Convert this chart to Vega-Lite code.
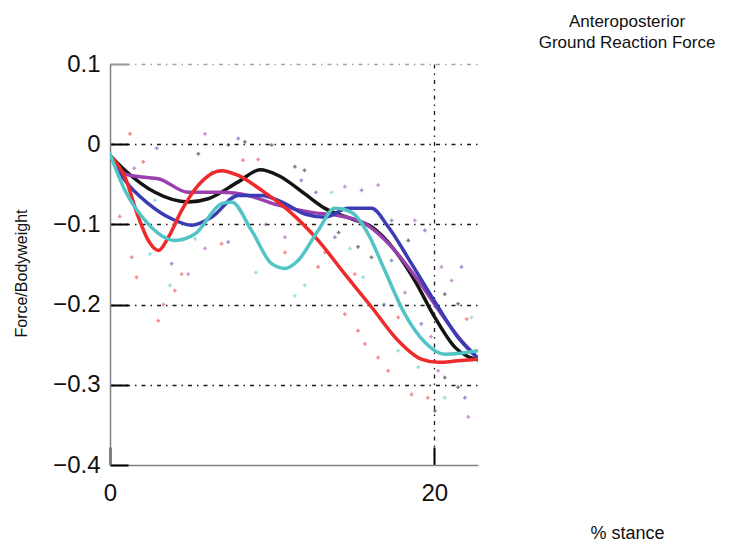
{
  "$schema": "https://vega.github.io/schema/vega-lite/v6.json",
  "width": 368,
  "height": 401,
  "autosize": "none",
  "padding": {"left": 110, "top": 64, "right": 266, "bottom": 77},
  "background": "white",
  "config": {
    "view": {"stroke": null},
    "font": "Liberation Sans"
  },
  "title": {
    "text": ["Anteroposterior", "Ground Reaction Force"],
    "anchor": "middle",
    "frame": "group",
    "dx": 333,
    "offset": 0,
    "fontSize": 17,
    "lineHeight": 21,
    "fontWeight": "normal",
    "font": "Liberation Sans",
    "color": "#111111"
  },
  "datasets": {
    "curves": [
      {"s": "black", "x": 0, "y": -0.014}, {"s": "black", "x": 0.92, "y": -0.0325}, {"s": "black", "x": 2.77, "y": -0.06}, {"s": "black", "x": 4.83, "y": -0.072}, {"s": "black", "x": 6.06, "y": -0.068}, {"s": "black", "x": 7.91, "y": -0.047}, {"s": "black", "x": 9.25, "y": -0.032}, {"s": "black", "x": 10.38, "y": -0.039}, {"s": "black", "x": 12.02, "y": -0.062}, {"s": "black", "x": 13.26, "y": -0.08}, {"s": "black", "x": 14.9, "y": -0.093}, {"s": "black", "x": 16.13, "y": -0.103}, {"s": "black", "x": 17.57, "y": -0.1325}, {"s": "black", "x": 18.8, "y": -0.17}, {"s": "black", "x": 20.04, "y": -0.216}, {"s": "black", "x": 21.27, "y": -0.253}, {"s": "black", "x": 22.7, "y": -0.269},
      {"s": "purple", "x": 0, "y": -0.014}, {"s": "purple", "x": 0.92, "y": -0.037}, {"s": "purple", "x": 1.95, "y": -0.041}, {"s": "purple", "x": 2.98, "y": -0.043}, {"s": "purple", "x": 4.83, "y": -0.06}, {"s": "purple", "x": 6.88, "y": -0.06}, {"s": "purple", "x": 8.53, "y": -0.064}, {"s": "purple", "x": 10.38, "y": -0.076}, {"s": "purple", "x": 12.43, "y": -0.085}, {"s": "purple", "x": 14.08, "y": -0.089}, {"s": "purple", "x": 15.72, "y": -0.099}, {"s": "purple", "x": 17.37, "y": -0.128}, {"s": "purple", "x": 19.01, "y": -0.17}, {"s": "purple", "x": 20.45, "y": -0.212}, {"s": "purple", "x": 21.68, "y": -0.245}, {"s": "purple", "x": 22.7, "y": -0.267},
      {"s": "blue", "x": 0, "y": -0.014}, {"s": "blue", "x": 0.92, "y": -0.045}, {"s": "blue", "x": 2.36, "y": -0.074}, {"s": "blue", "x": 3.8, "y": -0.093}, {"s": "blue", "x": 5.04, "y": -0.101}, {"s": "blue", "x": 6.27, "y": -0.091}, {"s": "blue", "x": 7.91, "y": -0.064}, {"s": "blue", "x": 9.35, "y": -0.064}, {"s": "blue", "x": 10.58, "y": -0.072}, {"s": "blue", "x": 12.02, "y": -0.087}, {"s": "blue", "x": 13.26, "y": -0.091}, {"s": "blue", "x": 14.7, "y": -0.08}, {"s": "blue", "x": 16.13, "y": -0.08}, {"s": "blue", "x": 17.16, "y": -0.103}, {"s": "blue", "x": 18.6, "y": -0.149}, {"s": "blue", "x": 20.24, "y": -0.203}, {"s": "blue", "x": 21.47, "y": -0.241}, {"s": "blue", "x": 22.7, "y": -0.267},
      {"s": "red", "x": 0, "y": -0.014}, {"s": "red", "x": 0.92, "y": -0.041}, {"s": "red", "x": 1.75, "y": -0.091}, {"s": "red", "x": 2.36, "y": -0.12}, {"s": "red", "x": 2.98, "y": -0.1325}, {"s": "red", "x": 3.6, "y": -0.116}, {"s": "red", "x": 4.42, "y": -0.0825}, {"s": "red", "x": 5.45, "y": -0.051}, {"s": "red", "x": 6.88, "y": -0.033}, {"s": "red", "x": 7.91, "y": -0.039}, {"s": "red", "x": 9.35, "y": -0.0575}, {"s": "red", "x": 11.0, "y": -0.0825}, {"s": "red", "x": 12.84, "y": -0.12}, {"s": "red", "x": 14.49, "y": -0.162}, {"s": "red", "x": 16.13, "y": -0.203}, {"s": "red", "x": 17.78, "y": -0.245}, {"s": "red", "x": 19.2, "y": -0.268}, {"s": "red", "x": 20.24, "y": -0.272}, {"s": "red", "x": 21.47, "y": -0.27}, {"s": "red", "x": 22.7, "y": -0.268},
      {"s": "cyan", "x": 0, "y": -0.012}, {"s": "cyan", "x": 0.92, "y": -0.0575}, {"s": "cyan", "x": 2.16, "y": -0.095}, {"s": "cyan", "x": 4.0, "y": -0.12}, {"s": "cyan", "x": 5.24, "y": -0.112}, {"s": "cyan", "x": 6.88, "y": -0.074}, {"s": "cyan", "x": 7.5, "y": -0.072}, {"s": "cyan", "x": 8.73, "y": -0.1075}, {"s": "cyan", "x": 9.97, "y": -0.149}, {"s": "cyan", "x": 10.79, "y": -0.155}, {"s": "cyan", "x": 11.6, "y": -0.145}, {"s": "cyan", "x": 12.84, "y": -0.1075}, {"s": "cyan", "x": 13.87, "y": -0.08}, {"s": "cyan", "x": 14.9, "y": -0.085}, {"s": "cyan", "x": 15.93, "y": -0.112}, {"s": "cyan", "x": 16.95, "y": -0.1575}, {"s": "cyan", "x": 18.19, "y": -0.212}, {"s": "cyan", "x": 19.42, "y": -0.247}, {"s": "cyan", "x": 20.65, "y": -0.262}, {"s": "cyan", "x": 22.7, "y": -0.2575}
    ],
    "points": [
      {"s": "red", "x": 1.23, "y": 0.013}, {"s": "red", "x": 1.64, "y": -0.166}, {"s": "red", "x": 1.34, "y": -0.141}, {"s": "red", "x": 2.98, "y": -0.22}, {"s": "red", "x": 4.42, "y": -0.162}, {"s": "red", "x": 4.0, "y": -0.1825}, {"s": "red", "x": 9.14, "y": -0.019}, {"s": "red", "x": 10.79, "y": -0.135}, {"s": "red", "x": 12.84, "y": -0.153}, {"s": "red", "x": 14.49, "y": -0.212}, {"s": "red", "x": 15.3, "y": -0.2325}, {"s": "red", "x": 15.72, "y": -0.249}, {"s": "red", "x": 16.54, "y": -0.266}, {"s": "red", "x": 17.16, "y": -0.2825}, {"s": "red", "x": 18.6, "y": -0.312}, {"s": "red", "x": 19.6, "y": -0.316}, {"s": "red", "x": 22.0, "y": -0.218}, {"s": "red", "x": 2.05, "y": -0.022}, {"s": "red", "x": 6.88, "y": -0.124}, {"s": "red", "x": 15.1, "y": -0.162}, {"s": "red", "x": 17.78, "y": -0.216}, {"s": "red", "x": 13.26, "y": -0.135}, {"s": "red", "x": 0.6, "y": -0.09}, {"s": "red", "x": 3.3, "y": -0.2}, {"s": "red", "x": 8.2, "y": -0.02},
      {"s": "blue", "x": 2.88, "y": -0.005}, {"s": "purple", "x": 5.86, "y": 0.013}, {"s": "blue", "x": 7.91, "y": 0.007}, {"s": "blue", "x": 7.29, "y": -0.122}, {"s": "purple", "x": 4.83, "y": -0.162}, {"s": "purple", "x": 14.49, "y": -0.053}, {"s": "blue", "x": 15.52, "y": -0.0575}, {"s": "purple", "x": 16.54, "y": -0.051}, {"s": "blue", "x": 17.37, "y": -0.095}, {"s": "purple", "x": 18.8, "y": -0.095}, {"s": "blue", "x": 19.42, "y": -0.1075}, {"s": "purple", "x": 20.45, "y": -0.153}, {"s": "blue", "x": 21.68, "y": -0.153}, {"s": "purple", "x": 18.19, "y": -0.185}, {"s": "blue", "x": 19.2, "y": -0.224}, {"s": "purple", "x": 20.24, "y": -0.2825}, {"s": "blue", "x": 21.89, "y": -0.316}, {"s": "purple", "x": 21.07, "y": -0.17}, {"s": "blue", "x": 17.37, "y": -0.145}, {"s": "purple", "x": 10.79, "y": -0.116}, {"s": "blue", "x": 13.87, "y": -0.116}, {"s": "blue", "x": 3.8, "y": -0.149}, {"s": "purple", "x": 5.86, "y": -0.13}, {"s": "purple", "x": 22.1, "y": -0.34}, {"s": "purple", "x": 1.5, "y": -0.03}, {"s": "blue", "x": 11.8, "y": -0.045}, {"s": "purple", "x": 9.6, "y": -0.1}, {"s": "blue", "x": 16.9, "y": -0.2}, {"s": "purple", "x": 19.8, "y": -0.24}, {"s": "blue", "x": 12.7, "y": -0.06},
      {"s": "black", "x": 11.4, "y": -0.028}, {"s": "black", "x": 12.0, "y": -0.0325}, {"s": "black", "x": 16.13, "y": -0.141}, {"s": "black", "x": 15.3, "y": -0.128}, {"s": "black", "x": 20.65, "y": -0.187}, {"s": "black", "x": 21.47, "y": -0.199}, {"s": "black", "x": 20.65, "y": -0.291}, {"s": "black", "x": 20.04, "y": -0.3325}, {"s": "black", "x": 21.47, "y": -0.303}, {"s": "black", "x": 7.29, "y": -0.001}, {"s": "black", "x": 8.32, "y": 0.003}, {"s": "black", "x": 9.97, "y": -0.001}, {"s": "black", "x": 5.45, "y": -0.012}, {"s": "black", "x": 18.4, "y": -0.12}, {"s": "black", "x": 14.1, "y": -0.11},
      {"s": "cyan", "x": 2.47, "y": -0.137}, {"s": "cyan", "x": 3.7, "y": -0.176}, {"s": "cyan", "x": 5.24, "y": -0.118}, {"s": "cyan", "x": 6.27, "y": -0.035}, {"s": "cyan", "x": 11.4, "y": -0.189}, {"s": "cyan", "x": 12.02, "y": -0.176}, {"s": "cyan", "x": 15.62, "y": -0.166}, {"s": "cyan", "x": 17.78, "y": -0.2575}, {"s": "cyan", "x": 19.01, "y": -0.278}, {"s": "cyan", "x": 20.65, "y": -0.316}, {"s": "cyan", "x": 22.3, "y": -0.216}, {"s": "cyan", "x": 2.77, "y": -0.07}, {"s": "cyan", "x": 13.67, "y": -0.06}, {"s": "cyan", "x": 9.0, "y": -0.16}, {"s": "cyan", "x": 14.8, "y": -0.13}
    ]
  },
  "encoding": {
    "x": {
      "field": "x", "type": "quantitative",
      "scale": {"domain": [0, 22.7], "nice": false, "zero": false},
      "axis": {
        "values": [0, 20],
        "format": "d",
        "title": "% stance",
        "titleX": 517, "titleY": 68,
        "titleBaseline": "middle",
        "titleFontSize": 18, "titleFontWeight": "normal", "titleColor": "#111111", "titleFont": "Liberation Sans",
        "labelFontSize": 24, "labelColor": "#111111", "labelFont": "Liberation Sans",
        "labelPadding": 34,
        "labelFlush": false,
        "tickSize": -18, "tickWidth": 2, "tickColor": "#000000",
        "domainColor": "#808080", "domainWidth": 1.5,
        "grid": true, "gridColor": "#000000", "gridWidth": 1.3, "gridDash": [4, 5, 1.5, 5],
        "gridOpacity": {"condition": {"test": "datum.value < 1", "value": 0}, "value": 0.9}
      }
    },
    "y": {
      "field": "y", "type": "quantitative",
      "scale": {"domain": [-0.4, 0.1], "nice": false, "zero": false},
      "axis": {
        "values": [-0.4, -0.3, -0.2, -0.1, 0, 0.1],
        "format": ".1~f",
        "title": "Force/Bodyweight",
        "titleX": -89, "titleY": 209,
        "titleBaseline": "middle",
        "titleFontSize": 16, "titleFontWeight": "normal", "titleColor": "#111111", "titleFont": "Liberation Sans",
        "labelFontSize": 24, "labelColor": "#111111", "labelFont": "Liberation Sans",
        "labelPadding": 28,
        "labelFlush": false,
        "tickSize": -18, "tickWidth": 2,
        "tickColor": {"condition": {"test": "datum.value > 0.05", "value": "#999999"}, "value": "#000000"},
        "domainColor": "#808080", "domainWidth": 1.5,
        "grid": true,
        "gridColor": {"condition": {"test": "datum.value > 0.05", "value": "#999999"}, "value": "#000000"},
        "gridWidth": 1.3, "gridDash": [4, 5, 1.5, 5],
        "gridOpacity": {"condition": {"test": "datum.value < -0.35", "value": 0}, "value": 0.9}
      }
    },
    "color": {
      "field": "s", "type": "nominal",
      "scale": {"domain": ["black", "purple", "blue", "red", "cyan"], "range": ["#141414", "#9a3fae", "#3b3cb3", "#ee2a2a", "#52c4c6"]},
      "legend": null
    }
  },
  "layer": [
    {
      "data": {"name": "points"},
      "mark": {"type": "point", "shape": "cross", "size": 14, "filled": true, "opacity": 0.55}
    },
    {
      "data": {"name": "curves"},
      "mark": {"type": "line", "strokeWidth": 3.5, "interpolate": "monotone", "clip": true, "strokeCap": "round", "strokeJoin": "round"}
    }
  ]
}
